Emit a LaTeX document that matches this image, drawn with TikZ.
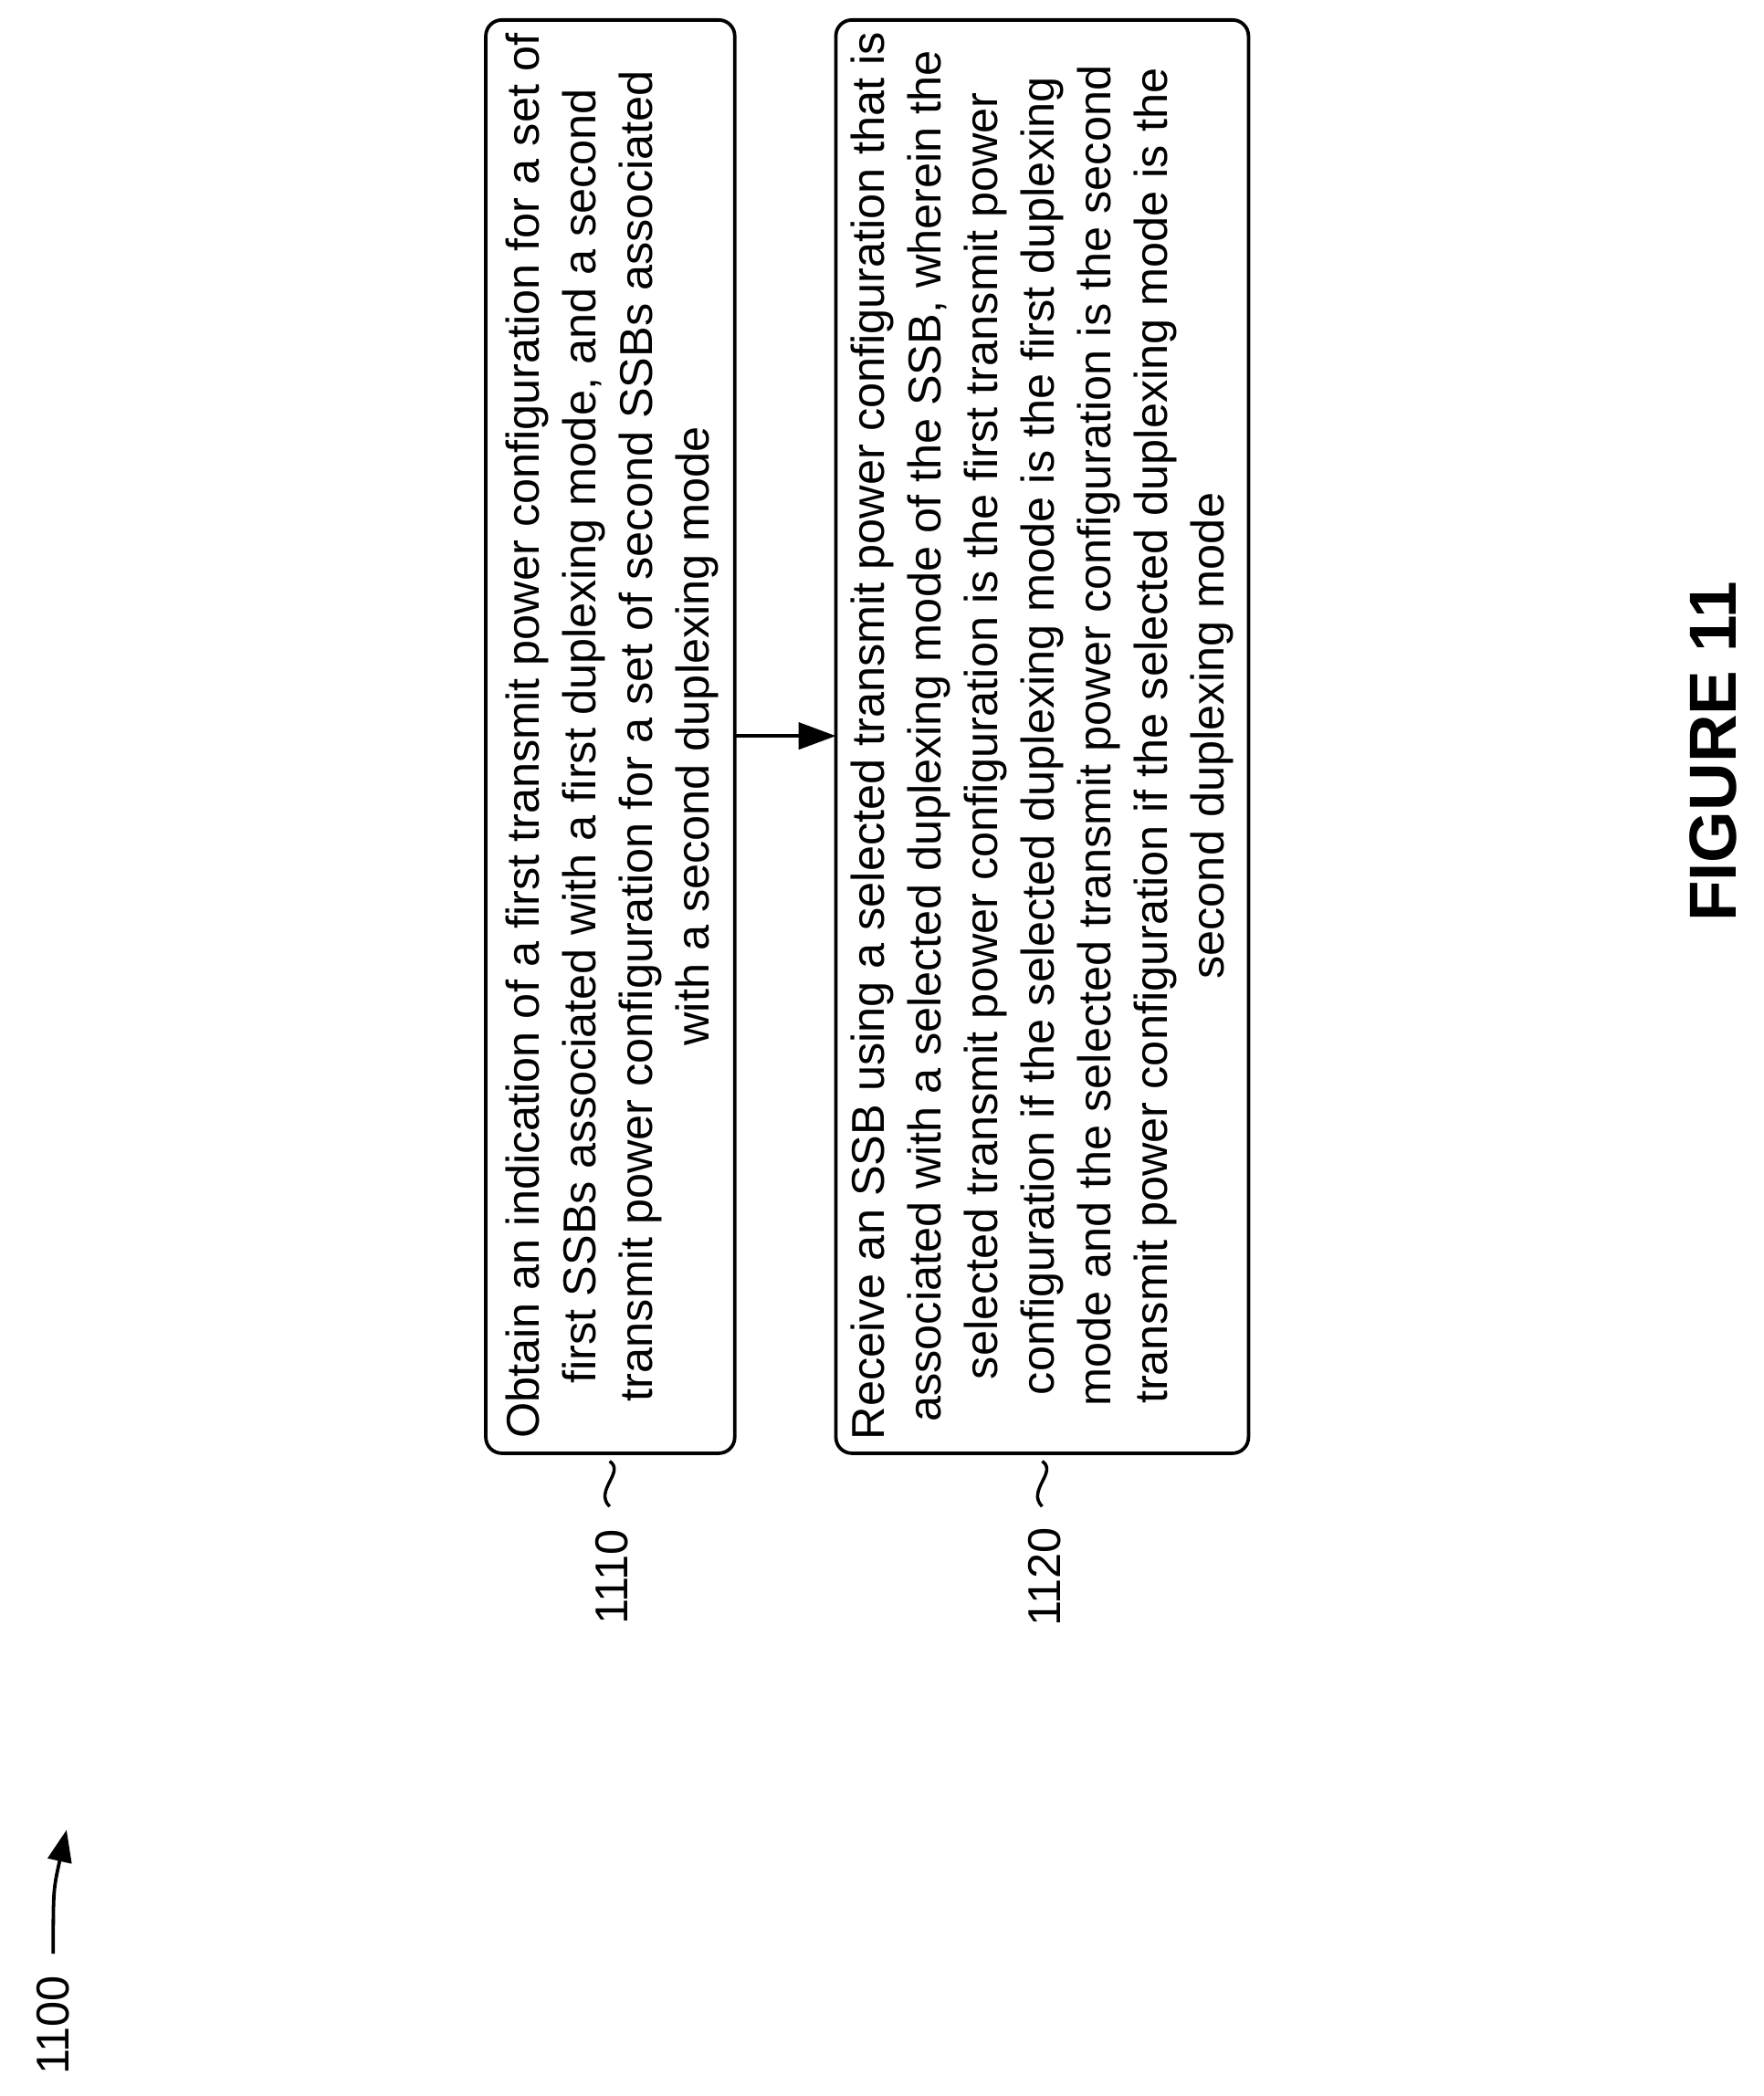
\documentclass[tikz,border=0pt]{standalone}
\usepackage{fontspec}
\setmainfont{Liberation Sans}
\usetikzlibrary{arrows.meta}
\begin{document}
\begin{tikzpicture}[x=0.5pt,y=-0.5pt,
  stepbox/.style={draw,line width=1.3pt,rounded corners=6pt},
  txt/.style={rotate=90,align=center,font=\fontsize{17.3}{21.3}\selectfont,inner sep=0pt},
  lbl/.style={rotate=90,font=\fontsize{17.3}{21.3}\selectfont}]
\useasboundingbox (0,0) rectangle (1325,1575);
\draw[stepbox] (365,15) rectangle (552,1092);
\draw[stepbox] (628,15) rectangle (938,1092);
\node[txt] (t1) at (460,553) {Obtain an indication of a first transmit power configuration for a set of\\first SSBs associated with a first duplexing mode, and a second\\transmit power configuration for a set of second SSBs associated\\with a second duplexing mode};
\node[txt] (t2) at (783,553) {Receive an SSB using a selected transmit power configuration that is\\associated with a selected duplexing mode of the SSB, wherein the\\selected transmit power configuration is the first transmit power\\configuration if the selected duplexing mode is the first duplexing\\mode and the selected transmit power configuration is the second\\transmit power configuration if the selected duplexing mode is the\\second duplexing mode};
\coordinate (a1) at (552,553);
\coordinate (a2) at (628,553);
\draw[line width=1.3pt,-{Triangle[length=14pt,width=10pt]}] (a1) -- (a2);
\node[lbl] (l1) at (460,1185) {1110};
\node[lbl] (l2) at (785,1185) {1120};
\draw[line width=1.2pt] (458,1098) .. controls (470,1106) and (446,1120) .. (458,1132);
\draw[line width=1.2pt] (783,1098) .. controls (795,1106) and (771,1120) .. (783,1132);
\node[lbl] (l0) at (40,1522) {1100};
\draw[line width=1.3pt,-{Triangle[length=12pt,width=9pt]}] (40,1468) .. controls (40,1420) .. (50,1375);
\node[rotate=90,font=\bfseries\fontsize{25}{28}\selectfont] (fig) at (1287,565) {FIGURE 11};
\end{tikzpicture}
\end{document}
